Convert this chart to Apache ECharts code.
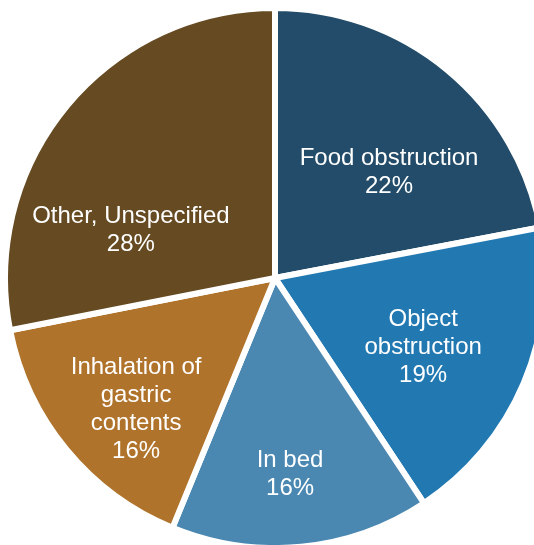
<!DOCTYPE html>
<html>
<head>
<meta charset="utf-8">
<script src="https://cdn.jsdelivr.net/npm/echarts@6/dist/echarts.min.js"></script>
<style>
html, body { margin: 0; padding: 0; background: #fff; }
#main { width: 534px; height: 545px; }
</style>
</head>
<body>
<div id="main"></div>
<script>
// slices, clockwise from 12 o'clock
var categories = ['Food obstruction', 'Object\nobstruction', 'In bed', 'Inhalation of\ngastric\ncontents', 'Other, Unspecified'];
var shares = [22.0, 18.7, 15.5, 15.7, 28.1];
var shareLabels = ['22%', '19%', '16%', '16%', '28%'];
var colors = ['#224c69', '#2279b2', '#4a88b2', '#b0732b', '#654a22'];

// label placement: fraction of radius and small turn (deg) off the mid angle
var labelRadius = [0.583, 0.612, 0.738, 0.715, 0.569];
var labelTurn = [-7.5, -2.1, -1.2, 3.9, 21];

var cx = 275, cy = 278, R = 267;

var chart = echarts.init(document.getElementById('main'));

var total = shares.reduce(function (a, b) { return a + b; }, 0);

function midAngle(i) {
	var before = 0;
	for (var k = 0; k < i; k++) before += shares[k];
	return 90 - (before + shares[i] / 2) / total * 360;
}

var option = {
	animation: false,
	color: colors,
	series: [{
		type: 'pie',
		center: [cx, cy],
		radius: R + 3,
		startAngle: 90,
		clockwise: true,
		silent: true,
		itemStyle: {
			borderColor: '#fff',
			borderWidth: 6
		},
		label: {
			show: true,
			position: 'inside',
			color: '#fff',
			fontSize: 24,
			lineHeight: 28,
			fontFamily: 'Liberation Sans, Arial, Helvetica, sans-serif',
			formatter: function (p) {
				return categories[p.dataIndex] + '\n' + shareLabels[p.dataIndex];
			}
		},
		labelLayout: function (p) {
			var i = p.dataIndex;
			var a = (midAngle(i) + labelTurn[i]) * Math.PI / 180;
			var r = R * labelRadius[i];
			return {
				x: cx + r * Math.cos(a),
				y: cy - r * Math.sin(a),
				align: 'center',
				verticalAlign: 'middle'
			};
		},
		data: categories.map(function (c, i) {
			return { name: c, value: shares[i] };
		})
	}]
};

chart.setOption(option);
</script>
</body>
</html>
